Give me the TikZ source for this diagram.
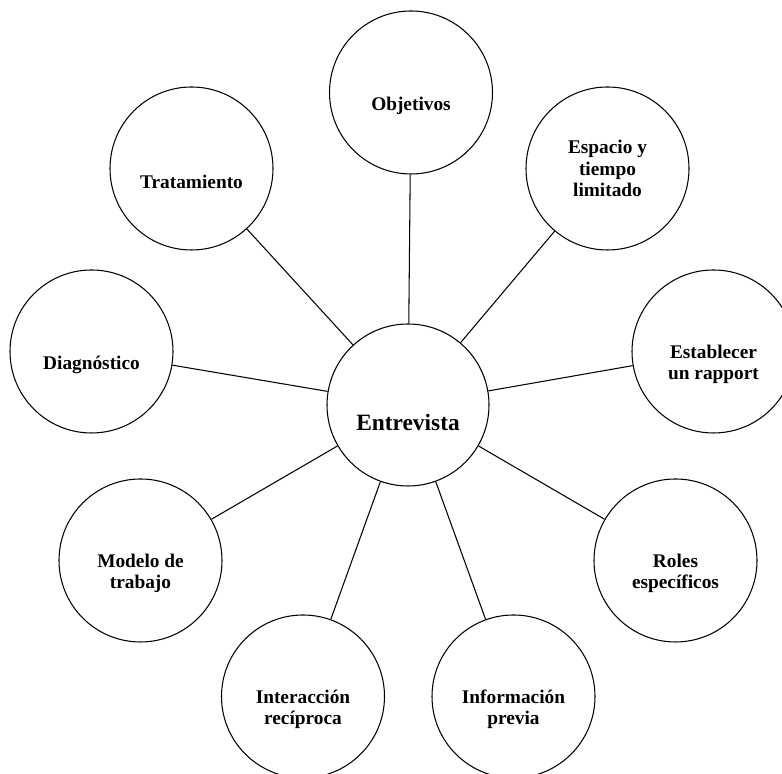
\documentclass[tikz,border=0pt]{standalone}
\usepackage{fontspec}
\setmainfont{Liberation Serif}
\usepackage{tikz}
\tikzset{%
	idea/.style={
		circle,
		draw,
		line width=0.6pt,
		minimum size=3.26cm,
		inner sep=0pt
	},
	idea text/.style={
		font=\bfseries\fontsize{11}{12.2}\selectfont,
		align=center,
		yshift=-0.26cm
	},
	spoke/.style={
		line width=0.6pt
	},
}
\begin{document}
\begin{tikzpicture}
			\path[use as bounding box] (0,0) rectangle (15.64,15.48);
			\clip (0,0) rectangle (15.64,15.48);
			
			% Draw the centre circle
			\node[idea, minimum size=3.24cm] (entrevista) at (8.16,7.38) {};
			\node[idea text, font=\bfseries\fontsize{13.3}{15}\selectfont, yshift=-0.1cm] (entrevista-t) at (entrevista) {Entrevista};
			
			% Draw the outer circles
			\node[idea] (objetivos) at (8.22,13.63) {};
			\node[idea text] (objetivos-t) at (objetivos) {Objetivos};
			
			\node[idea] (tratamiento) at (3.83,12.11) {};
			\node[idea text] (tratamiento-t) at (tratamiento) {Tratamiento};
			
			\node[idea] (espacio) at (12.15,12.11) {};
			\node[idea text, yshift=0.26cm] (espacio-t) at (espacio) {Espacio y\\tiempo\\limitado};
			
			\node[idea] (diagnostico) at (1.83,8.45) {};
			\node[idea text] (diagnostico-t) at (diagnostico) {Diagnóstico};
			
			\node[idea] (rapport) at (14.27,8.45) {};
			\node[idea text] (rapport-t) at (rapport) {Establecer\\un rapport};
			
			\node[idea] (modelo) at (2.81,4.27) {};
			\node[idea text] (modelo-t) at (modelo) {Modelo de\\trabajo};
			
			\node[idea] (roles) at (13.51,4.27) {};
			\node[idea text] (roles-t) at (roles) {Roles\\específicos};
			
			\node[idea] (interaccion) at (6.06,1.55) {};
			\node[idea text] (interaccion-t) at (interaccion) {Interacción\\recíproca};
			
			\node[idea] (informacion) at (10.27,1.55) {};
			\node[idea text] (informacion-t) at (informacion) {Información\\previa};
			
			% Draw the spokes
			\foreach \n in {objetivos, tratamiento, espacio, diagnostico, rapport, modelo, roles, interaccion, informacion}
				\draw[spoke] (entrevista) -- (\n);

		\end{tikzpicture}
\end{document}
